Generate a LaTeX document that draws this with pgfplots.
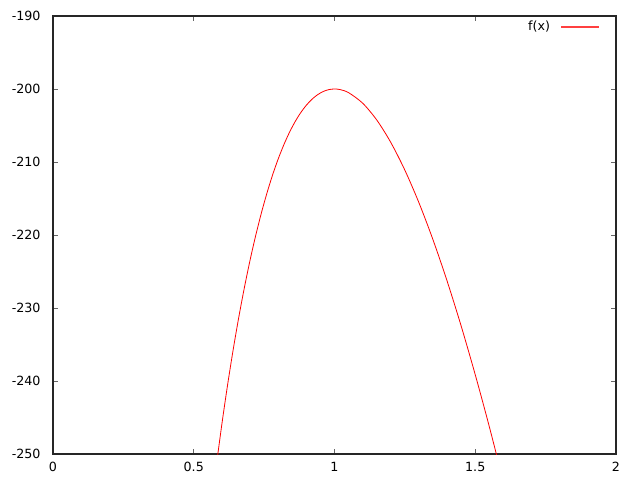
\documentclass[border=0pt]{standalone}
\usepackage{fontspec}
\setmainfont{DejaVu Sans}
\usepackage{pgfplots}
\pgfplotsset{compat=1.18}
\begin{document}
\fontsize{9.5}{11}\selectfont
\begin{tikzpicture}
\begin{axis}[
  at={(0pt,0pt)}, anchor=south west,
  scale only axis,
  width=422.25pt, height=328.5pt,
  xmin=0, xmax=2, ymin=-250, ymax=-190,
  xtick={0,0.5,1,1.5,2},
  ytick={-250,-240,-230,-220,-210,-200,-190},
  /pgf/number format/assume math mode=true,
  /pgf/number format/fixed,
  tick align=inside,
  major tick length=4pt,
  ticklabel style={font=\fontsize{9.5}{11}\selectfont},
  axis line style={black!85, line width=0.8pt},
  every tick/.style={black!60, line width=0.6pt},
  xticklabel style={yshift=-2.5pt},
  yticklabel style={xshift=-6pt},
  legend style={draw=none, fill=none, inner sep=0pt, at={(0.9716,0.9749)}, anchor=east,
    nodes={inner sep=0pt}, column sep=8pt, font=\fontsize{9.5}{11}\selectfont},
  legend plot pos=right,
  legend cell align=right,
  legend image code/.code={\draw[red!75, line width=0.8pt] (0pt,0pt) -- (28.5pt,0pt);},
  clip=true,
]
\addplot[red, line width=0.6pt, smooth] coordinates {
(0.58,-251.64) (0.60,-245.88) (0.62,-240.59) (0.64,-235.72) (0.66,-231.26)
(0.68,-227.18) (0.70,-223.46) (0.72,-220.08) (0.74,-217.02) (0.76,-214.26)
(0.78,-211.78) (0.80,-209.58) (0.82,-207.64) (0.84,-205.94) (0.86,-204.48)
(0.88,-203.24) (0.90,-202.22) (0.92,-201.40) (0.94,-200.78) (0.96,-200.34)
(0.98,-200.08) (1.00,-200.00) (1.02,-200.08) (1.05,-200.50) (1.10,-201.94)
(1.15,-204.24) (1.20,-207.32) (1.25,-211.12) (1.30,-215.58) (1.35,-220.66)
(1.40,-226.30) (1.45,-232.47) (1.50,-239.14) (1.55,-246.26) (1.60,-253.82)
};
\addlegendentry{f(x)}
\end{axis}
\pgfresetboundingbox
\path (-39.75pt,-19.5pt) rectangle (440.25pt,340.5pt);
\end{tikzpicture}
\end{document}
